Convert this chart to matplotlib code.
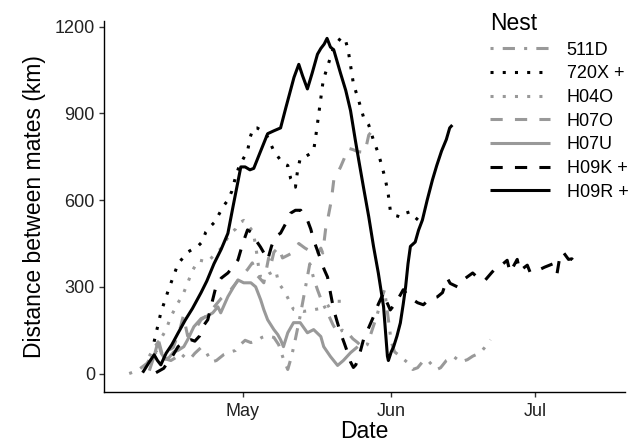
import numpy as np
import matplotlib
matplotlib.use('Agg')
import matplotlib.pyplot as plt
import matplotlib.dates as mdates

# day numbers are days since 1 April, distances in km
START = np.datetime64('2016-04-01T00:00')

days_511D = [6.3, 8, 10, 11, 12, 13, 14, 15, 16, 17, 18, 19, 20, 21.3, 22.5, 23.5, 24.5, 26, 27.5, 28.5,
             29.5, 30.5, 31.7, 33, 34, 35, 36.5, 37.5, 38.5, 39.4, 40.2, 41, 42, 43, 44, 44.8, 45.6, 46.5,
             47.7, 48.8, 49.8, 50.8, 51.9, 53, 54, 55, 56, 57, 58, 59, 59.6, 60.3, 61, 61.7, 62.9, 64.4,
             65.5, 66.5, 67.5, 68.5, 69.5, 70.5, 71.3, 72.5, 74, 75.5, 76.9, 78, 79.6, 80.5, 81.7]
km_511D = [0, 10, 35, 60, 75, 60, 50, 45, 55, 70, 55, 50, 70, 90, 70, 40, 45, 65, 75, 80,
           100, 115, 107, 115, 125, 130, 125, 100, 50, 14, 60, 120, 200, 290, 380, 330, 290, 250,
           210, 170, 141, 150, 141, 120, 107, 90, 100, 150, 200, 260, 290, 200, 110, 75, 59, 38,
           14, 20, 40, 48, 30, 14, 20, 45, 59, 40, 48, 60, 72, 90, 117]

days_720X = [11.5, 12.2, 12.9, 13.7, 14.5, 15.5, 16.5, 17.5, 18.5, 19.5, 20.6, 21.5, 22.3, 23.3, 24.2,
             25, 26, 26.9, 27.7, 28.5, 29.3, 30, 31, 31.6, 32.2, 33, 34, 35.2, 36.5, 37.9, 38.7, 39.4,
             40, 41, 41.4, 42, 43, 44, 44.8, 45.2, 45.6, 46.2, 46.8, 47.9, 49, 50.4, 51.3, 52, 53.1,
             54.2, 55.2, 56.3, 57.3, 58.3, 59.1, 59.8, 60.4, 60.8, 61.5, 62.3, 63, 64, 65, 66, 66.7]
km_720X = [110, 160, 210, 250, 290, 335, 380, 400, 420, 430, 440, 455, 490, 510, 525,
           550, 580, 600, 630, 680, 720, 740, 770, 820, 850, 850, 840, 818, 770, 738, 725, 720,
           675, 645, 697, 745, 750, 760, 772, 815, 865, 940, 1015, 1073, 1130, 1160, 1162, 1120, 1003,
           945, 888, 860, 807, 762, 715, 670, 617, 565, 548, 545, 540, 555, 560, 540, 530]

days_H04O = [10.5, 11.5, 12.9, 14, 15, 16.5, 17.5, 18.5, 19.6, 20.8, 22.7, 24, 25.8, 26.9, 27.5,
             28.5, 29.2, 30.2, 31, 32.2, 32.8, 33.3, 33.7, 34.5, 35.5, 36.9, 37.5, 38.5, 39.4, 40,
             40.6, 41.5, 42.7, 44, 45.2, 46.5, 47.5, 48.5, 49.5, 50.8]
km_H04O = [60, 90, 120, 152, 197, 245, 272, 314, 359, 393, 386, 410, 438, 472, 486,
           500, 520, 530, 515, 490, 430, 370, 334, 330, 345, 357, 312, 290, 262, 240,
           222, 220, 215, 218, 222, 226, 230, 240, 250, 250]

days_H07O = [12.5, 13.3, 14, 15.5, 17, 17.6, 18.5, 20, 21.3, 22.5, 24, 25.5, 27.5, 29.6, 31,
             32, 33, 34.4, 35.4, 35.8, 36.5, 37.5, 38.3, 39.5, 40.6, 41.7, 43, 44.5, 45.5, 46.3,
             46.7, 47.3, 47.7, 48.5, 49, 50.4, 51.2, 52, 53, 54, 55.5, 56.3, 57, 57.7]
km_H07O = [110, 60, 75, 90, 160, 200, 130, 150, 186, 200, 230, 260, 290, 334, 360,
           383, 340, 314, 400, 370, 420, 438, 400, 410, 420, 450, 434, 420, 410, 434,
           417, 500, 530, 600, 669, 714, 745, 780, 775, 768, 765, 825, 840, 852]

days_H07U = [10.5, 11.5, 12.3, 13, 13.8, 14.6, 15.6, 16.5, 17.7, 18.5, 19.8, 21.3, 22.7, 23.75,
             24.8, 25.4, 26.9, 28.1, 29, 30.2, 31.7, 32.7, 33.75, 34.4, 35.2, 36.5, 37.3, 37.9,
             38.5, 39.4, 40.6, 42, 43.5, 44.8, 46.3, 46.9, 48.3, 49.8, 51, 52.5, 54]
km_H07U = [10, 60, 110, 70, 50, 55, 75, 80, 93, 117, 162, 190, 200, 210,
           231, 210, 266, 300, 324, 314, 314, 300, 255, 221, 186, 152, 135, 117,
           93, 141, 176, 176, 141, 152, 128, 93, 59, 28, 45, 72, 93]

days_H09K = [11.9, 13.5, 14.4, 15.5, 16.5, 18, 19.2, 20, 21, 22, 22.7, 23.5, 24.4, 25.5, 26.9, 28,
             29, 30, 31, 31.7, 32.3, 33, 33.7, 34.5, 35.2, 36, 36.5, 37.2, 37.9, 39, 40, 41, 42.1,
             42.8, 43.5, 44.2, 44.8, 45.5, 46.3, 47, 47.7, 48.3, 49, 49.7, 50.4, 51.2, 51.9, 52.5,
             53.1, 53.6, 54, 54.6, 55.2, 56.2, 57.3, 58.3, 59.4, 60, 60.8, 61.5, 62.3, 63, 63.5,
             64.5, 65.6, 66.5, 67.7, 68.5, 69.5, 70.6, 71.7, 72.7, 73.3, 74.8, 76.5, 78, 79.6,
             80.6, 82, 83, 84, 85.2, 85.8, 87.3, 87.8, 89.4, 90, 92, 93, 94.8, 95.6, 96.3, 96.9,
             98, 98.7, 99.8]
km_H09K = [3, 18, 40, 65, 93, 110, 117, 112, 130, 170, 186, 240, 300, 330, 348, 370,
           393, 450, 497, 490, 472, 455, 438, 415, 393, 440, 462, 478, 486, 520, 555, 565, 565,
           545, 531, 500, 462, 430, 393, 360, 334, 280, 220, 180, 141, 105, 72, 40,
           21, 30, 48, 80, 117, 155, 197, 240, 279, 250, 220, 235, 255, 275, 290,
           270, 255, 245, 238, 250, 260, 265, 280, 330, 312, 300, 330, 348, 323,
           323, 350, 368, 375, 392, 350, 395, 355, 375, 350, 360, 368, 380, 345, 415, 420,
           395, 397, 375]

days_H09R = [9.1, 10.5, 11.5, 12.2, 12.9, 14, 15.2, 16.5, 18, 19.5, 21.3, 22.5, 24, 25.5, 26.9, 28,
             29.6, 30.5, 31.5, 32.3, 33.5, 35.2, 36.5, 37.9, 39, 40.7, 41.7, 42.5, 43.5, 44.5, 45.6,
             46.3, 47, 47.6, 48.3, 49, 50.4, 51.5, 52.5, 53.5, 54.2, 55.2, 56.3, 57.3, 58.3, 59.4,
             60.2, 60.4, 61, 61.5, 62.2, 62.9, 63.5, 64, 64.5, 65, 66, 66.7, 67.5, 68.5, 69.6, 70.5,
             71.5, 72.5, 73.2, 73.75]
km_H09R = [3, 40, 65, 45, 30, 70, 100, 140, 185, 225, 280, 320, 380, 430, 485, 580,
           715, 715, 705, 710, 760, 830, 840, 850, 920, 1025, 1070, 1030, 985, 1040, 1105,
           1125, 1140, 1160, 1130, 1120, 1040, 980, 910, 808, 740, 645, 543, 440, 348, 231,
           60, 45, 75, 93, 130, 175, 240, 300, 380, 440, 455, 496, 531, 600, 670, 720,
           770, 810, 850, 860]

NESTS = ['511D', '720X +', 'H04O', 'H07O', 'H07U', 'H09K +', 'H09R +']
SERIES = [(days_511D, km_511D), (days_720X, km_720X), (days_H04O, km_H04O), (days_H07O, km_H07O),
          (days_H07U, km_H07U), (days_H09K, km_H09K), (days_H09R, km_H09R)]

GREY = '#999999'
COLORS = [GREY, 'black', GREY, GREY, GREY, 'black', 'black']
DASHES = [(0, (1, 3, 4, 3)), (0, (1, 3)), (0, (1, 3)), (0, (4, 4)), '-', (0, (4, 4)), '-']


def to_dates(days):
    mins = np.round(np.asarray(days, dtype=float) * 1440).astype(np.int64)
    return START + mins.astype('timedelta64[m]')


plt.rcParams['font.family'] = ['Liberation Sans', 'DejaVu Sans']

fig = plt.figure(figsize=(6.4, 4.47), dpi=100)
ax = fig.add_axes([0.1625, 0.123, 0.8141, 0.830])

for (d, km), name, col, ls in zip(SERIES, NESTS, COLORS, DASHES):
    ax.plot(to_dates(d), km, color=col, linestyle=ls, linewidth=2.2,
            dash_capstyle='butt', solid_capstyle='butt', label=name)

ax.set_xlim(to_dates([1.04])[0], to_dates([109.8])[0])
ax.set_ylim(-64, 1220)
ax.set_yticks([0, 300, 600, 900, 1200])
ax.xaxis.set_major_locator(mdates.MonthLocator())
ax.xaxis.set_major_formatter(mdates.DateFormatter('%b'))

for side in ['top', 'right']:
    ax.spines[side].set_visible(False)
for side in ['left', 'bottom']:
    ax.spines[side].set_linewidth(1.0)
ax.tick_params(length=3.5, width=1.0, color='#333333', labelsize=13, labelcolor='#222222')
ax.tick_params(axis='x', pad=4.5)
ax.tick_params(axis='y', pad=3)

ax.set_xlabel('Date', fontsize=16.5, labelpad=0)
ax.set_ylabel('Distance between mates (km)', fontsize=16.5, labelpad=6)

leg = fig.legend(loc='upper left', bbox_to_anchor=(481 / 640, 1 - 3 / 447), frameon=False,
                 title='Nest', title_fontsize=16.5, fontsize=13, handlelength=3.3,
                 handletextpad=0.95, labelspacing=0.37, borderpad=0, alignment='left')

fig.savefig('out.png', dpi=100)
